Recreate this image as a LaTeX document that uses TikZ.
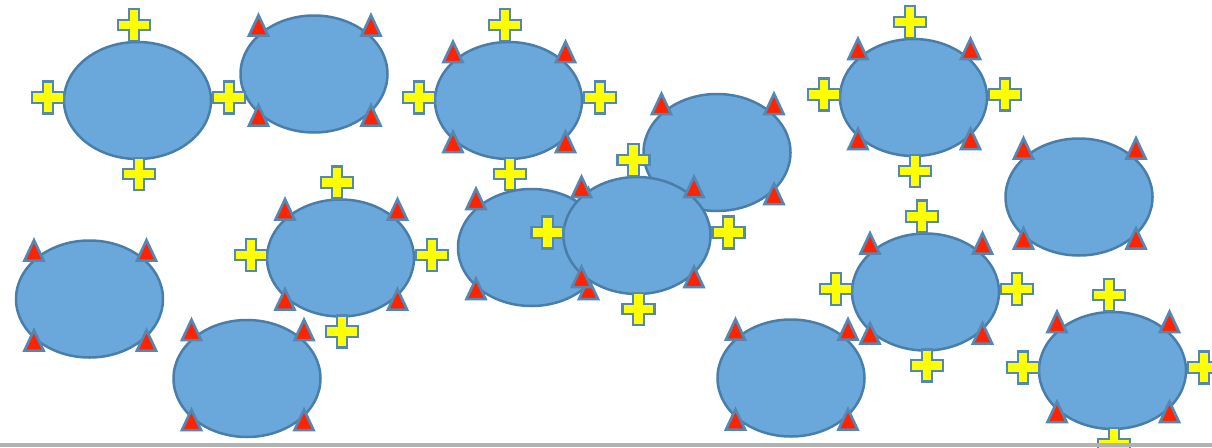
\documentclass[tikz,border=0pt]{standalone}
\usetikzlibrary{shapes.geometric}
\definecolor{ellfill}{RGB}{106,168,219}
\definecolor{ellline}{RGB}{74,126,170}
\definecolor{mkline}{RGB}{84,136,180}
\definecolor{plusfill}{RGB}{255,255,0}
\definecolor{trifill}{RGB}{255,35,0}
\definecolor{bargray}{RGB}{178,178,178}
\tikzset{
  blob/.style={ellipse, draw=ellline, fill=ellfill, line width=2.5pt,
    minimum width=147pt, minimum height=117pt, inner sep=0pt, outer sep=0pt},
  plusshape/.style={draw=mkline, fill=plusfill, line width=2.2pt, line join=miter},
  trishape/.style={draw=mkline, fill=trifill, line width=2.6pt, line join=miter},
}
\newcommand{\bubble}[3]{\node[blob] (#1) at (#2,#3) {};}
\newcommand{\pluses}[1]{%
  \foreach \dx/\dy in {-3.5/-75.5, -89.5/-3, 91.5/-3, 1.5/73.5}{%
    \draw[plusshape, shift={(#1.center)}, shift={(\dx,\dy)}]
      (-5.3,-16) -- (5.3,-16) -- (5.3,-5.3) -- (16,-5.3) -- (16,5.3) -- (5.3,5.3)
      -- (5.3,16) -- (-5.3,16) -- (-5.3,5.3) -- (-16,5.3) -- (-16,-5.3) -- (-5.3,-5.3) -- cycle;
  }}
\newcommand{\tris}[1]{%
  \foreach \dx/\dy in {-55.5/-49, 57/-49, -55.5/41, 57/41}{%
    \draw[trishape, shift={(#1.center)}, shift={(\dx,\dy)}]
      (0,-9.8) -- (9.6,10.6) -- (-9.6,10.6) -- cycle;
  }}
\begin{document}
\begin{tikzpicture}[x=1pt, y=-1pt]
\path[use as bounding box] (0,0) rectangle (1212,447);
\clip (0,0) rectangle (1212,447);
\fill[white] (0,0) rectangle (1212,447);
\bubble{e2}{314}{74} \tris{e2}
\bubble{e1}{137.5}{100.5} \pluses{e1}
\bubble{e3}{508.5}{100.5} \tris{e3} \pluses{e3}
\bubble{e4}{717}{152.5} \tris{e4}
\bubble{e13}{531.5}{247.5} \tris{e13}
\bubble{e14}{637}{235.5} \tris{e14} \pluses{e14}
\bubble{e5}{913.5}{97.5} \tris{e5} \pluses{e5}
\bubble{e6}{1079}{197} \tris{e6}
\bubble{e7}{925.5}{292} \tris{e7} \pluses{e7}
\bubble{e8}{791}{378} \tris{e8}
\bubble{e9}{89.5}{299} \tris{e9}
\bubble{e10}{340.5}{258} \tris{e10} \pluses{e10}
\bubble{e11}{247}{378.5} \tris{e11}
\bubble{e12}{1112.5}{370.5} \tris{e12} \pluses{e12}
\fill[bargray] (0,443.3) rectangle (1212,447);
\end{tikzpicture}
\end{document}
